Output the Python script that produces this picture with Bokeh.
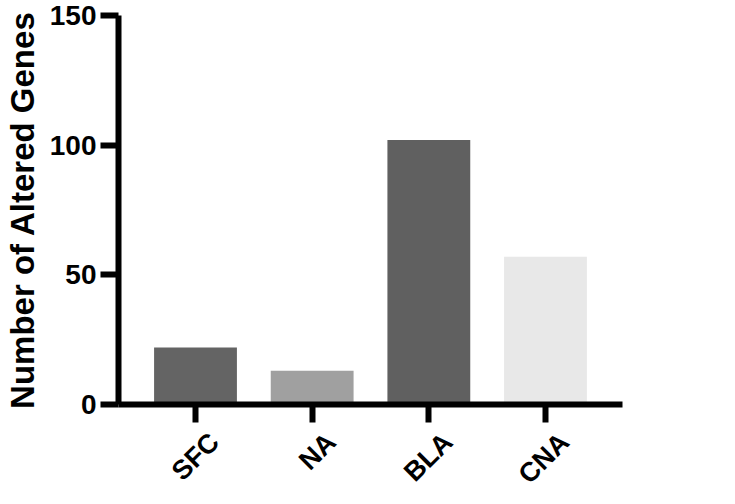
import math
from bokeh.plotting import figure
from bokeh.layouts import column
from bokeh.models import Range1d, FixedTicker, ColumnDataSource
from bokeh.core.properties import value
from bokeh.embed import file_html
from bokeh.resources import INLINE

categories = ["SFC", "NA", "BLA", "CNA"]
values = [22, 13, 102, 57]
colors = ["#646464", "#a0a0a0", "#606060", "#e8e8e8"]
y_ticks = [0, 50, 100, 150]

PAD = 0.16
centers = [i + 0.5 for i in range(len(categories))]
src = ColumnDataSource(dict(x=centers, cat=categories, val=values, color=colors))

W = 719
H1 = 424          # main chart (frame + x axis line/ticks)
H2 = 488 - H1     # strip holding the rotated category labels
BL, BR = 115, 97
font = "Liberation Sans"

xr = Range1d(-PAD, len(categories) + PAD)

p = figure(
    width=W, height=H1,
    x_range=xr, y_range=Range1d(0, 150),
    output_backend="svg", toolbar_location=None,
    min_border_left=BL, min_border_right=BR, min_border_top=15, min_border_bottom=20,
)
p.vbar(x="x", top="val", width=0.71, color="color", source=src, line_color=None)

p.outline_line_color = None
p.xgrid.grid_line_color = None
p.ygrid.grid_line_color = None

for ax in (p.xaxis[0], p.yaxis[0]):
    ax.axis_line_width = 6
    ax.axis_line_color = "black"
    ax.major_tick_line_width = 6
    ax.major_tick_line_color = "black"
    ax.major_tick_in = 0
    ax.major_tick_out = 18
    ax.minor_tick_line_color = None
    ax.major_label_text_font = font
    ax.major_label_text_font_style = "bold"
    ax.major_label_text_font_size = "28px"
    ax.major_label_text_color = "black"

p.yaxis[0].ticker = FixedTicker(ticks=y_ticks)
p.yaxis[0].major_label_standoff = 4
p.yaxis[0].axis_label = "Number of Altered Genes"
p.yaxis[0].axis_label_text_font = font
p.yaxis[0].axis_label_text_font_style = "bold"
p.yaxis[0].axis_label_text_font_size = "33px"
p.yaxis[0].axis_label_text_color = "black"
p.yaxis[0].axis_label_standoff = 6

p.xaxis[0].ticker = FixedTicker(ticks=centers)
p.xaxis[0].major_label_text_font_size = "1px"
p.xaxis[0].major_label_text_alpha = 0
p.xaxis[0].major_label_standoff = 0

# label strip sharing the x range
q = figure(
    width=W, height=H2,
    x_range=xr, y_range=Range1d(0, H2),
    output_backend="svg", toolbar_location=None,
    x_axis_location=None, y_axis_location=None,
    min_border_left=BL, min_border_right=BR, min_border_top=0, min_border_bottom=0,
)
q.outline_line_color = None
q.xgrid.grid_line_color = None
q.ygrid.grid_line_color = None

LABEL_DROP = 13   # px below the strip's top edge
q.text(
    x="x", y=H2 - LABEL_DROP, text="cat", source=src,
    angle=math.pi / 4, x_offset=19,
    text_align="right", text_baseline="middle",
    text_font=value(font), text_font_style="bold", text_font_size="27px", text_color="black",
)

layout = column(p, q, spacing=0)
open("out.html", "w").write(file_html(layout, INLINE))
